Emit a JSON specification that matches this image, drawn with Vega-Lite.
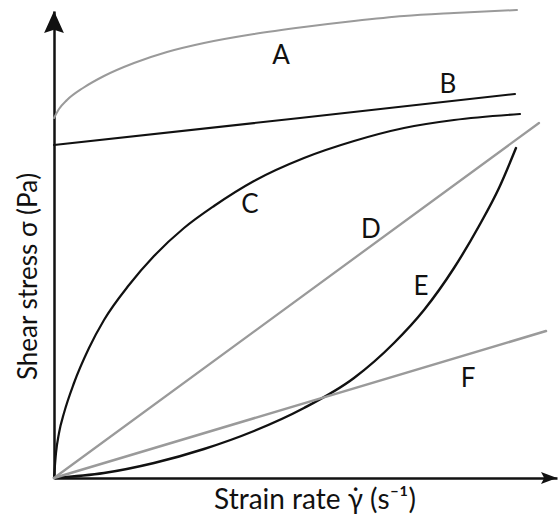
{
  "$schema": "https://vega.github.io/schema/vega-lite/v6.json",
  "width": 503,
  "height": 467,
  "autosize": {"type": "none"},
  "padding": {"left": 54, "top": 11, "right": 2, "bottom": 49},
  "background": "white",
  "config": {"view": {"stroke": null}, "font": "Lato"},
  "datasets": {
    "curves": [
      {"curve": "A", "x": 0, "y": 360}, {"curve": "A", "x": 5, "y": 369}, {"curve": "A", "x": 13, "y": 378}, {"curve": "A", "x": 29, "y": 390}, {"curve": "A", "x": 50, "y": 402}, {"curve": "A", "x": 80, "y": 415}, {"curve": "A", "x": 113, "y": 426}, {"curve": "A", "x": 150, "y": 435}, {"curve": "A", "x": 200, "y": 444}, {"curve": "A", "x": 250, "y": 451}, {"curve": "A", "x": 300, "y": 457}, {"curve": "A", "x": 350, "y": 462}, {"curve": "A", "x": 400, "y": 465}, {"curve": "A", "x": 463, "y": 468},
      {"curve": "B", "x": 0, "y": 333}, {"curve": "B", "x": 246, "y": 360}, {"curve": "B", "x": 461, "y": 384},
      {"curve": "C", "x": 0, "y": 0}, {"curve": "C", "x": 2, "y": 25}, {"curve": "C", "x": 5, "y": 45}, {"curve": "C", "x": 10, "y": 65}, {"curve": "C", "x": 20, "y": 95}, {"curve": "C", "x": 35, "y": 130}, {"curve": "C", "x": 50, "y": 158}, {"curve": "C", "x": 75, "y": 193}, {"curve": "C", "x": 100, "y": 222}, {"curve": "C", "x": 130, "y": 250}, {"curve": "C", "x": 160, "y": 272}, {"curve": "C", "x": 200, "y": 297}, {"curve": "C", "x": 250, "y": 320}, {"curve": "C", "x": 300, "y": 337}, {"curve": "C", "x": 350, "y": 350}, {"curve": "C", "x": 400, "y": 358}, {"curve": "C", "x": 466, "y": 364},
      {"curve": "D", "x": 0, "y": 0}, {"curve": "D", "x": 485, "y": 355},
      {"curve": "E", "x": 0, "y": 0}, {"curve": "E", "x": 50, "y": 5}, {"curve": "E", "x": 100, "y": 15}, {"curve": "E", "x": 150, "y": 29}, {"curve": "E", "x": 200, "y": 47}, {"curve": "E", "x": 250, "y": 70}, {"curve": "E", "x": 300, "y": 100}, {"curve": "E", "x": 340, "y": 135}, {"curve": "E", "x": 370, "y": 168}, {"curve": "E", "x": 400, "y": 210}, {"curve": "E", "x": 425, "y": 252}, {"curve": "E", "x": 445, "y": 290}, {"curve": "E", "x": 462, "y": 330},
      {"curve": "F", "x": 0, "y": 0}, {"curve": "F", "x": 492, "y": 147}
    ],
    "labels": [
      {"label": "A", "x": 227, "y": 422},
      {"label": "B", "x": 394, "y": 393},
      {"label": "C", "x": 196, "y": 273},
      {"label": "D", "x": 317, "y": 248},
      {"label": "E", "x": 367, "y": 191},
      {"label": "F", "x": 414, "y": 99}
    ],
    "arrows": [
      {"axis": "y", "x": 0, "y": 467},
      {"axis": "x", "x": 503, "y": 0}
    ]
  },
  "encoding": {
    "x": {"type": "quantitative", "scale": {"domain": [0, 503], "nice": false}},
    "y": {"type": "quantitative", "scale": {"domain": [0, 467], "nice": false}}
  },
  "layer": [
    {
      "data": {"name": "curves"},
      "mark": {"type": "line", "interpolate": "monotone", "strokeCap": "round"},
      "encoding": {
        "x": {"field": "x", "type": "quantitative", "axis": {"domain": true, "domainColor": "#111", "domainWidth": 2.5, "ticks": false, "labels": false, "grid": false, "title": "Strain rate γ̇ (s⁻¹)", "titleFont": "Lato", "titleFontSize": 28, "titleFontWeight": "normal", "titleColor": "#111", "titleX": 260.5, "titleY": 30, "titleAlign": "center", "titleBaseline": "alphabetic"}},
        "y": {"field": "y", "type": "quantitative", "axis": {"domain": true, "domainColor": "#111", "domainWidth": 2.5, "ticks": false, "labels": false, "grid": false, "title": "Shear stress σ (Pa)", "titleFont": "Lato", "titleFontSize": 26, "titleFontWeight": "normal", "titleColor": "#111", "titleX": -18, "titleY": 265, "titleAlign": "center", "titleBaseline": "alphabetic", "titleAngle": -90}},
        "detail": {"field": "curve"},
        "color": {"field": "curve", "type": "nominal", "scale": {"domain": ["A", "B", "C", "D", "E", "F"], "range": ["#9a9a9a", "#111111", "#111111", "#9a9a9a", "#111111", "#9a9a9a"]}, "legend": null},
        "strokeWidth": {"field": "curve", "type": "nominal", "scale": {"domain": ["A", "B", "C", "D", "E", "F"], "range": [2, 2.5, 2.5, 2, 2.5, 2]}, "legend": null}
      }
    },
    {
      "data": {"name": "labels"},
      "mark": {"type": "text", "font": "Lato", "fontSize": 26, "color": "#111", "align": "center", "baseline": "middle"},
      "encoding": {
        "x": {"field": "x", "type": "quantitative"},
        "y": {"field": "y", "type": "quantitative"},
        "text": {"field": "label"}
      }
    },
    {
      "data": {"name": "arrows"},
      "transform": [{"filter": "datum.axis === 'y'"}],
      "mark": {"type": "point", "shape": "M0,0L-0.9,2L0,1.7L0.9,2Z", "size": 484, "filled": true, "color": "#111", "opacity": 1},
      "encoding": {
        "x": {"field": "x", "type": "quantitative"},
        "y": {"field": "y", "type": "quantitative"}
      }
    },
    {
      "data": {"name": "arrows"},
      "transform": [{"filter": "datum.axis === 'x'"}],
      "mark": {"type": "point", "shape": "M0,0L-2,-0.75L-1.6,0L-2,0.75Z", "size": 256, "filled": true, "color": "#111", "opacity": 1},
      "encoding": {
        "x": {"field": "x", "type": "quantitative"},
        "y": {"field": "y", "type": "quantitative"}
      }
    }
  ]
}
